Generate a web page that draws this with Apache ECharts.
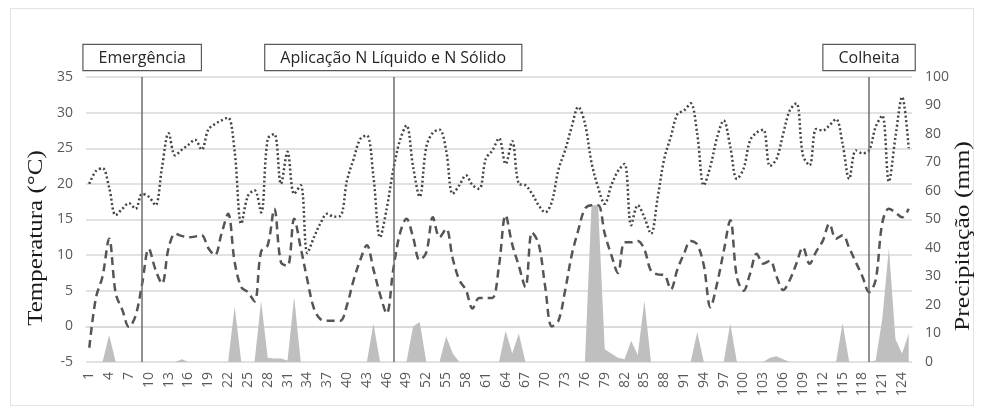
<!DOCTYPE html>
<html>
<head>
<meta charset="utf-8">
<script src="https://cdn.jsdelivr.net/npm/echarts@6/dist/echarts.min.js"></script>
<style>
html,body{margin:0;padding:0;background:#fff;}
#chart{width:983px;height:414px;}
</style>
</head>
<body>
<div id="chart"></div>
<script>
// Days after sowing (categories)
const days = Array.from({length: 125}, (_, i) => String(i + 1));

// Maximum temperature (°C) – dotted line
const tempMax = [
  20.0, 21.8, 22.2, 19.5, 15.6, 16.5, 17.3, 16.5, 18.6, 18.2,
  17.0, 22.3, 27.1, 24.0, 24.8, 25.5, 26.2, 24.8, 27.6, 28.4,
  28.9, 29.3, 24.5, 14.4, 18.3, 19.1, 16.0, 26.3, 27.0, 20.0,
  24.5, 18.6, 19.8, 10.3, 12.5, 14.5, 15.8, 15.4, 15.5, 20.5,
  23.5, 26.3, 26.8, 21.0, 12.5, 16.5, 22.0, 26.1, 28.2, 22.4,
  18.2, 25.2, 27.2, 27.6, 24.7, 18.6, 19.8, 21.2, 19.8, 19.3,
  23.5, 24.7, 26.4, 22.8, 26.0, 20.0, 19.8, 18.6, 17.0, 16.0,
  17.5, 22.0, 24.7, 28.0, 30.8, 28.5, 23.0, 19.5, 17.2, 19.8,
  21.8, 22.8, 14.2, 17.0, 15.3, 13.0, 18.0, 23.5, 26.6, 29.8,
  30.3, 31.3, 27.0, 19.8, 22.5, 26.5, 28.9, 25.2, 20.7, 22.1,
  26.1, 27.2, 27.6, 22.5, 23.5, 27.0, 30.3, 31.3, 24.0, 22.6,
  27.7, 27.5, 28.2, 29.1, 25.6, 20.7, 24.7, 24.3, 24.7, 28.0,
  29.6, 20.3, 26.6, 32.2, 25.0
];

// Minimum temperature (°C) – dashed line
const tempMin = [
  -3.0, 4.0, 7.0, 12.3, 4.6, 2.3, -0.1, 1.5, 6.0, 10.9,
  8.0, 6.0, 11.0, 13.0, 12.7, 12.5, 12.6, 12.8, 11.0, 10.0,
  13.0, 15.8, 9.0, 5.5, 4.8, 3.5, 10.5, 11.4, 16.5, 9.0,
  8.5, 15.1, 11.0, 6.5, 2.5, 1.0, 0.8, 0.8, 0.8, 3.0,
  6.5, 9.3, 11.4, 8.0, 4.5, 1.8, 8.0, 13.0, 15.1, 12.5,
  9.3, 10.4, 15.3, 12.5, 13.7, 9.5, 6.5, 5.1, 2.5, 4.0,
  4.0, 4.0, 8.5, 15.6, 11.5, 8.5, 5.5, 13.2, 11.6, 5.5,
  0.0, 0.8, 5.0, 10.0, 13.5, 16.5, 17.0, 17.0, 13.0, 10.0,
  7.5, 11.8, 11.8, 12.0, 10.8, 7.8, 7.3, 7.2, 5.2, 8.0,
  10.2, 12.0, 11.5, 8.5, 2.7, 6.0, 10.5, 14.9, 6.9, 5.0,
  7.4, 10.2, 8.8, 9.2, 7.0, 5.1, 6.5, 8.8, 11.1, 8.8,
  10.5, 12.0, 14.4, 12.3, 12.8, 11.0, 9.0, 7.0, 4.8, 6.5,
  14.5, 16.5, 16.0, 15.3, 16.5
];

// Precipitation (mm) – grey area
const precipitation = [
  0, 0, 0, 9.5, 0, 0, 0, 0, 0, 0,
  0, 0, 0, 0, 1.0, 0, 0, 0, 0, 0,
  0, 0, 19.5, 0, 0, 0, 21.4, 1.5, 1.2, 1.2,
  0.5, 22.8, 0, 0, 0, 0, 0, 0, 0, 0,
  0, 0, 0, 13.5, 0, 0, 0, 0, 0, 12.5,
  14.0, 0, 0, 0, 9.0, 3.0, 0, 0, 0, 0,
  0, 0, 0, 11.0, 3.0, 10.0, 0, 0, 0, 0,
  0, 0, 0, 0, 0, 0, 55.0, 55.0, 4.5, 3.0,
  1.5, 1.0, 7.5, 2.5, 21.6, 0, 0, 0, 0, 0,
  0, 0, 10.5, 0, 0, 0, 0, 13.5, 0, 0,
  0, 0, 0, 1.5, 2.0, 1.0, 0, 0, 0, 0,
  0, 0, 0, 0, 13.7, 0, 0, 0, 0, 0.5,
  15.0, 40.0, 8.0, 3.0, 10.0
];

// Event markers (day, label)
const eventDays = ['9', '47', '119'];
const eventLabels = ['Emergência', 'Aplicação N Líquido e N Sólido', 'Colheita'];

// Axis ticks
const tempAxis = {min: -5, max: 35, step: 5};
const precAxis = {min: 0, max: 100, step: 10};

const chart = echarts.init(document.getElementById('chart'), null, {renderer: 'canvas'});

const tickFont = {color: '#595959', fontSize: 14, fontFamily: 'Open Sans'};

const option = {
  animation: false,
  backgroundColor: '#ffffff',
  grid: {left: 86, right: 71, top: 77, bottom: 52, containLabel: false},
  xAxis: {
    type: 'category',
    data: days,
    boundaryGap: true,
    axisLine: {show: true, lineStyle: {color: '#d9d9d9', width: 1.5}},
    axisTick: {show: false},
    axisLabel: Object.assign({interval: 2, rotate: 90, margin: 10}, tickFont),
    splitLine: {show: false}
  },
  yAxis: [
    {
      type: 'value', min: tempAxis.min, max: tempAxis.max, interval: tempAxis.step,
      axisLine: {show: false}, axisTick: {show: false},
      axisLabel: Object.assign({margin: 13}, tickFont),
      splitLine: {show: true, lineStyle: {color: '#d9d9d9', width: 1.5}}
    },
    {
      type: 'value', min: precAxis.min, max: precAxis.max, interval: precAxis.step,
      axisLine: {show: false}, axisTick: {show: false},
      axisLabel: Object.assign({margin: 13}, tickFont),
      splitLine: {show: false}
    }
  ],
  series: [
    {
      name: 'Precipitação',
      type: 'line',
      yAxisIndex: 1,
      data: precipitation,
      symbol: 'none',
      lineStyle: {width: 0, color: '#bfbfbf'},
      areaStyle: {color: '#bfbfbf', opacity: 1},
      z: 1,
      markLine: {
        silent: true,
        symbol: ['none', 'none'],
        lineStyle: {color: '#6e6e6e', width: 1.5, type: 'solid'},
        label: {
          show: true,
          position: 'end',
          formatter: '{b}',
          color: '#262626',
          fontSize: 16,
          fontFamily: 'Open Sans',
          backgroundColor: '#ffffff',
          borderColor: '#595959',
          borderWidth: 1.2,
          padding: [5, 15, 4, 15],
          distance: 7
        },
        data: eventDays.map((d, i) => ({xAxis: d, name: eventLabels[i]}))
      }
    },
    {
      name: 'Temperatura mínima',
      type: 'line',
      yAxisIndex: 0,
      data: tempMin,
      symbol: 'none',
      smooth: 0.35,
      lineStyle: {color: '#555555', width: 2.5, type: [8, 5]},
      z: 3
    },
    {
      name: 'Temperatura máxima',
      type: 'line',
      yAxisIndex: 0,
      data: tempMax,
      symbol: 'none',
      smooth: 0.35,
      lineStyle: {color: '#444444', width: 2.5, type: [2, 2.5]},
      z: 3
    }
  ],
  graphic: [
    {
      type: 'rect', silent: true, z: -10,
      shape: {x: 10.5, y: 8.5, width: 963, height: 397},
      style: {fill: 'none', stroke: '#e3e3e3', lineWidth: 1}
    },
    {
      type: 'text', silent: true,
      x: 37, y: 238, rotation: Math.PI / 2, scaleX: 1.25,
      style: {text: 'Temperatura (°C)', fontFamily: 'Liberation Serif', fontSize: 20, fill: '#1a1a1a', textAlign: 'center', textVerticalAlign: 'middle'}
    },
    {
      type: 'text', silent: true,
      x: 964, y: 236, rotation: Math.PI / 2, scaleX: 1.28,
      style: {text: 'Precipitação (mm)', fontFamily: 'Liberation Serif', fontSize: 20, fill: '#1a1a1a', textAlign: 'center', textVerticalAlign: 'middle'}
    }
  ]
};

chart.setOption(option);
</script>
</body>
</html>
